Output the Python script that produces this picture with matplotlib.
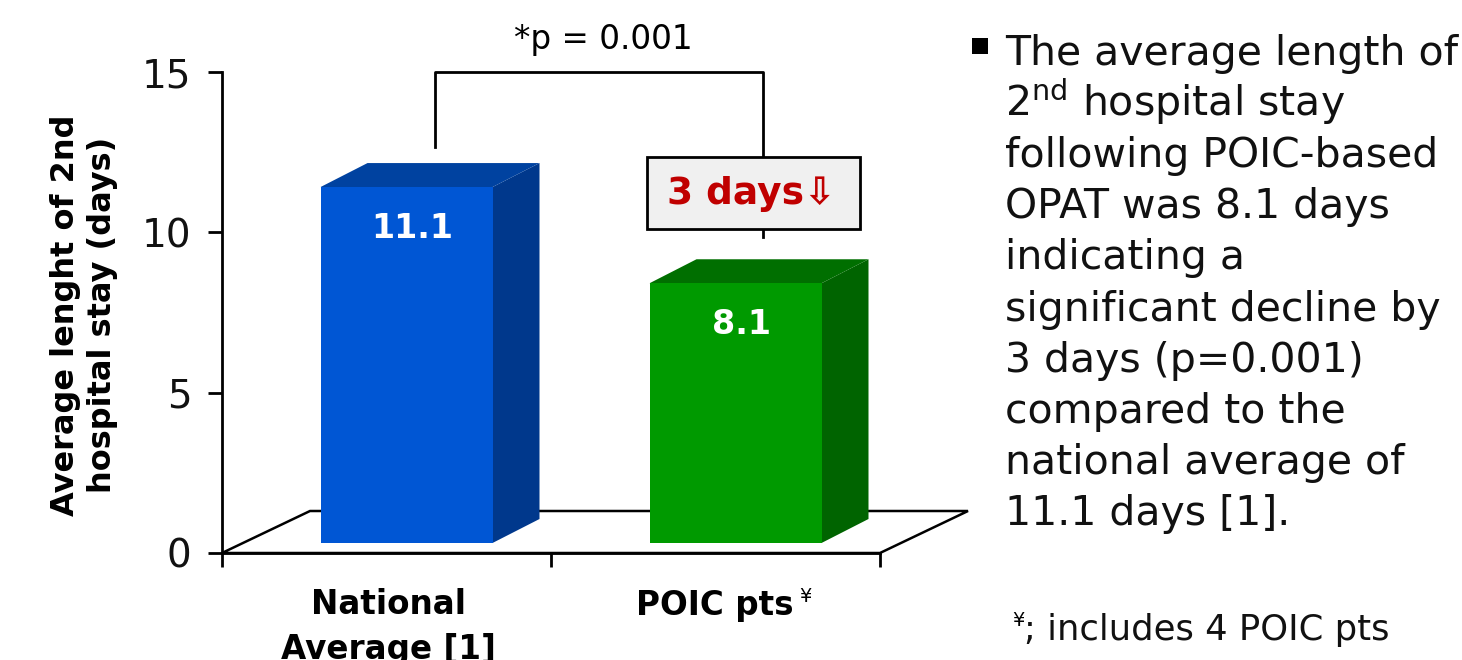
import matplotlib
matplotlib.use("Agg")
import matplotlib.pyplot as plt
from matplotlib.patches import Polygon, Rectangle

categories = ["National\nAverage [1]", "POIC pts"]
values = [11.1, 8.1]
front_colors = ["#0056d4", "#009a00"]
top_colors = ["#0042a0", "#006f00"]
side_colors = ["#00388c", "#006400"]
y_ticks = [0, 5, 10, 15]
p_text = "*p = 0.001"
diff_text = "3 days\u21e9"
bullet_lines = [
    "The average length of",
    "2$^{\\mathregular{nd}}$ hospital stay",
    "following POIC-based",
    "OPAT was 8.1 days",
    "indicating a",
    "significant decline by",
    "3 days (p=0.001)",
    "compared to the",
    "national average of",
    "11.1 days [1].",
]

W, H = 1462, 660
fig = plt.figure(figsize=(W / 100, H / 100), dpi=100)
plt.rcParams["font.family"] = "DejaVu Sans"

# axes box in pixels: x 222..880, y 72..553
ax = fig.add_axes([222 / W, 1 - 553 / H, (880 - 222) / W, (553 - 72) / H])
ax.set_xlim(0, 2)
ax.set_ylim(0, 15)
sx = 2 / 658   # data units per pixel, x
sy = 15 / 481  # data units per pixel, y

for s in ["top", "right"]:
    ax.spines[s].set_visible(False)
ax.spines["left"].set_linewidth(2)
ax.spines["bottom"].set_linewidth(2)
ax.set_yticks(y_ticks)
ax.set_yticklabels([str(t) for t in y_ticks], fontsize=28, color="#111111")
ax.set_xticks([0, 1, 2])
ax.set_xticklabels([])
ax.tick_params(axis="both", direction="out", length=10, width=2, pad=20)
ax.tick_params(axis="y", pad=12)

# floor of the pseudo-3D plot
fdx, fdy = 88 * sx, 42 * sy
floor = Polygon([(0, 0), (2, 0), (2 + fdx, fdy), (fdx, fdy)], closed=True,
                facecolor="white", edgecolor="black", lw=1.8, clip_on=False, zorder=1)
ax.add_patch(floor)

# bars
bw = 172 * sx
ddx, ddy = 47 * sx, 24 * sy
shift_x, shift_y = 20 * sx, 10 * sy
for i, v in enumerate(values):
    x0 = i + 0.5 + shift_x - bw / 2
    y0 = shift_y
    front = Rectangle((x0, y0), bw, v, facecolor=front_colors[i], edgecolor="none",
                      clip_on=False, zorder=3)
    top = Polygon([(x0, y0 + v), (x0 + bw, y0 + v), (x0 + bw + ddx, y0 + v + ddy),
                   (x0 + ddx, y0 + v + ddy)], facecolor=top_colors[i], edgecolor="none",
                  clip_on=False, zorder=3)
    side = Polygon([(x0 + bw, y0), (x0 + bw + ddx, y0 + ddy), (x0 + bw + ddx, y0 + v + ddy),
                    (x0 + bw, y0 + v)], facecolor=side_colors[i], edgecolor="none",
                   clip_on=False, zorder=3)
    for p in (side, top, front):
        ax.add_patch(p)
    ax.text(x0 + bw / 2 + 6 * sx, y0 + v - 1.3, f"{v:.1f}", color="white", fontsize=24,
            fontweight="bold", ha="center", va="center", zorder=4)

# significance bracket
bx0, bx1 = 213 * sx, 541 * sx
ax.plot([bx0, bx0, bx1, bx1], [12.66, 15, 15, 9.85], color="black", lw=2,
        clip_on=False, zorder=2)
box = Rectangle((425 * sx, (553 - 229) * sy), 213 * sx, 72 * sy, facecolor="#f0f0f0",
                edgecolor="black", lw=2, clip_on=False, zorder=5)
ax.add_patch(box)
ax.text((425 + 104) * sx, (553 - 194) * sy, diff_text, color="#c00000", fontsize=27,
        fontweight="bold", ha="center", va="center", zorder=6)
fig.text(603 / W, 1 - 40 / H, p_text, fontsize=23.5, ha="center", va="center")

# y label
fig.text(84 / W, 1 - 315 / H, "Average lenght of 2nd\nhospital stay (days)", rotation=90,
         fontsize=23, fontweight="bold", ha="center", va="center", linespacing=1.25)

# category labels
fig.text(388 / W, 1 - 605 / H, "National", fontsize=23.5, fontweight="bold",
         ha="center", va="center")
fig.text(388 / W, 1 - 649 / H, "Average [1]", fontsize=23.5, fontweight="bold",
         ha="center", va="center")
fig.text(715 / W, 1 - 605 / H, "POIC pts", fontsize=23.5, fontweight="bold",
         ha="center", va="center")
fig.text(799 / W, 1 - 597 / H, "\u00a5", fontsize=14, ha="left", va="center")

# bullet text on the right
fig.patches.append(Rectangle((972 / W, 1 - 54 / H), 16 / W, 16 / H, facecolor="black",
                             transform=fig.transFigure, figure=fig))
for k, line in enumerate(bullet_lines):
    fig.text(1005 / W, 1 - (65 + 51.1 * k) / H, line, fontsize=29.5, ha="left",
             va="baseline", color="#111111")
fig.text(1012 / W, 1 - 626 / H, "\u00a5", fontsize=14, ha="left", va="baseline")
fig.text(1024 / W, 1 - 640 / H, "; includes 4 POIC pts", fontsize=25.5, ha="left",
         va="baseline", color="#111111")

fig.savefig("out.png", dpi=100)
